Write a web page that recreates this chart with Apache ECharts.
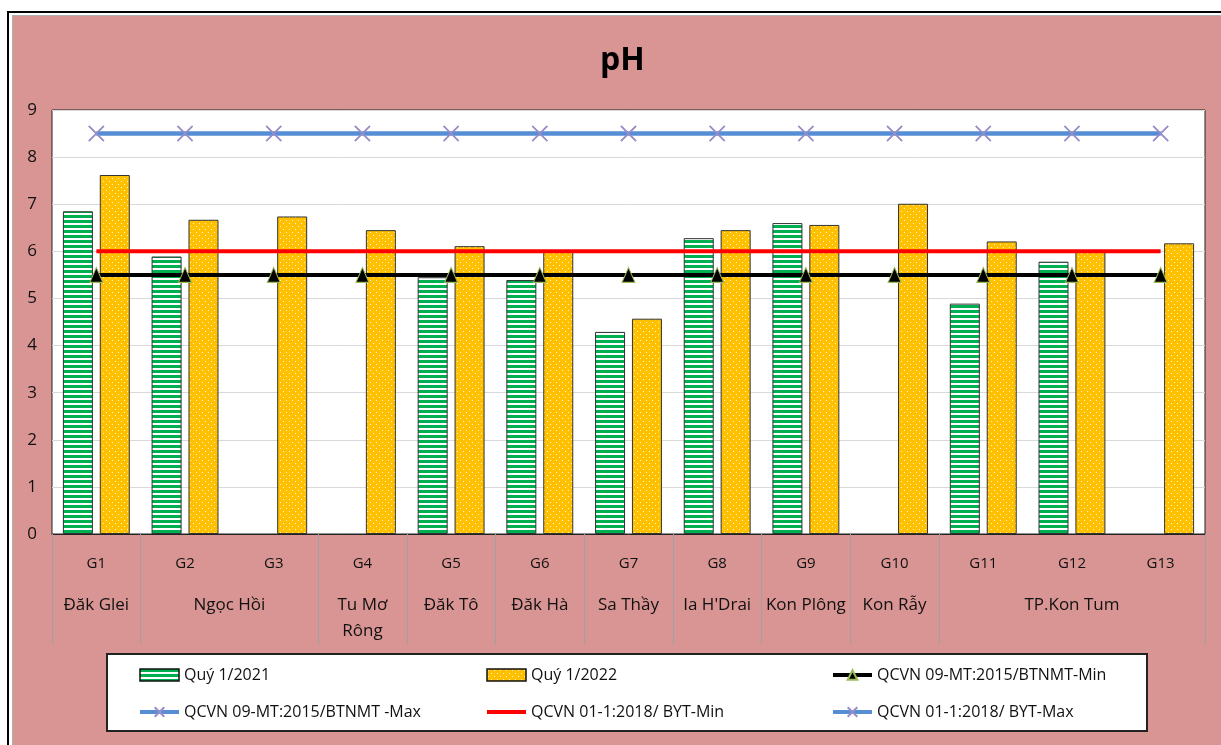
<!DOCTYPE html>
<html>
<head>
<meta charset="utf-8">
<script src="https://cdn.jsdelivr.net/npm/echarts@6/dist/echarts.min.js"></script>
<style>
  html, body { margin: 0; padding: 0; background: #fff; }
  #frame { position: absolute; left: 7px; top: 11px; width: 1230px; height: 760px; border: 2px solid #000; background: #fff; box-sizing: border-box; }
  #pink { position: absolute; left: 12px; top: 15px; width: 1220px; height: 740px; background: #d99594; border-left: 1px solid #b0b0b0; border-top: 1px solid #b0b0b0; box-sizing: border-box; }
  #legendbox { position: absolute; left: 106px; top: 653px; width: 1042px; height: 79px; background: #fff; border: 2px solid #222; box-sizing: border-box; }
  #chart { position: absolute; left: 0; top: 0; width: 1221px; height: 745px; }
</style>
</head>
<body>
<div id="frame"></div>
<div id="pink"></div>
<div id="legendbox"></div>
<div id="chart"></div>
<script>
// ---- data ----
const categories = ['G1','G2','G3','G4','G5','G6','G7','G8','G9','G10','G11','G12','G13'];
const groups = [
  { name: 'Đăk Glei', span: 1 },
  { name: 'Ngọc Hồi', span: 2 },
  { name: 'Tu Mơ\nRông', span: 1 },
  { name: 'Đăk Tô', span: 1 },
  { name: 'Đăk Hà', span: 1 },
  { name: 'Sa Thầy', span: 1 },
  { name: "Ia H'Drai", span: 1 },
  { name: 'Kon Plông', span: 1 },
  { name: 'Kon Rẫy', span: 1 },
  { name: 'TP.Kon Tum', span: 3 }
];
const q2021 = [6.85, 5.89, null, null, 5.45, 5.39, 4.29, 6.28, 6.60, null, 4.89, 5.78, null];
const q2022 = [7.62, 6.67, 6.74, 6.45, 6.11, 6.00, 4.57, 6.45, 6.56, 7.01, 6.21, 6.00, 6.17];
const qcvn09Min = [5.5, 5.5, 5.5, 5.5, 5.5, 5.5, 5.5, 5.5, 5.5, 5.5, 5.5, 5.5, 5.5];
const qcvn09Max = [8.5, 8.5, 8.5, 8.5, 8.5, 8.5, 8.5, 8.5, 8.5, 8.5, 8.5, 8.5, 8.5];
const qcvn01Min = [6, 6, 6, 6, 6, 6, 6, 6, 6, 6, 6, 6, 6];
const qcvn01Max = [8.5, 8.5, 8.5, 8.5, 8.5, 8.5, 8.5, 8.5, 8.5, 8.5, 8.5, 8.5, 8.5];
const yTicks = { min: 0, max: 9, step: 1 };
const names = {
  s1: 'Quý 1/2021',
  s2: 'Quý 1/2022',
  s3: 'QCVN 09-MT:2015/BTNMT-Min',
  s4: 'QCVN 09-MT:2015/BTNMT -Max',
  s5: 'QCVN 01-1:2018/ BYT-Min',
  s6: 'QCVN 01-1:2018/ BYT-Max'
};

// ---- derived group geometry (in category index units) ----
const boundaryStarts = new Set();
const groupCenters = {};
let idx = 0;
groups.forEach(g => {
  boundaryStarts.add(idx);
  groupCenters[(idx + idx + g.span - 1) / 2] = g.name;
  idx += g.span;
});

// ---- patterns ----
function stripePattern() {
  const c = document.createElement('canvas');
  c.width = 4; c.height = 5;
  const ctx = c.getContext('2d');
  ctx.fillStyle = '#ffffff'; ctx.fillRect(0, 0, 4, 5);
  ctx.fillStyle = '#00b050'; ctx.fillRect(0, 0, 4, 3);
  return { image: c, repeat: 'repeat' };
}
function dotPattern() {
  const c = document.createElement('canvas');
  c.width = 6; c.height = 6;
  const ctx = c.getContext('2d');
  ctx.fillStyle = '#ffc000'; ctx.fillRect(0, 0, 6, 6);
  ctx.fillStyle = '#fff6d8';
  ctx.fillRect(1, 1, 1, 1);
  ctx.fillRect(4, 4, 1, 1);
  return { image: c, repeat: 'repeat' };
}

const FONT = '"Open Sans", "Noto Sans", sans-serif';
const chart = echarts.init(document.getElementById('chart'), null, { renderer: 'canvas' });
const xSymbol = 'path://M0,0L10,10M10,0L0,10';

const legendCommon = {
  orient: 'vertical',
  top: 662,
  itemWidth: 39,
  itemHeight: 12,
  itemGap: 21,
  textStyle: { fontFamily: FONT, fontSize: 16, color: '#111', lineHeight: 16 },
  selectedMode: false
};
const barLegend = (n) => ({ name: n, icon: 'rect', itemStyle: { borderColor: '#111', borderWidth: 1.5 } });
const lineLegend = (n) => ({ name: n, lineStyle: { width: 4 } });

chart.setOption({
  animation: false,
  backgroundColor: 'transparent',
  title: {
    text: 'pH', left: 595, top: 40,
    textStyle: { fontFamily: FONT, fontWeight: 'bold', fontSize: 32, color: '#000' }
  },
  legend: [
    Object.assign({}, legendCommon, { left: 133, data: [barLegend(names.s1), lineLegend(names.s4)] }),
    Object.assign({}, legendCommon, { left: 480, data: [barLegend(names.s2), { name: names.s5, lineStyle: { width: 4 }, itemStyle: { opacity: 0 } }] }),
    Object.assign({}, legendCommon, { left: 826, data: [lineLegend(names.s3), lineLegend(names.s6)] })
  ],
  grid: {
    left: 52, right: 16, top: 110, bottom: 211,
    show: true, backgroundColor: '#ffffff', borderColor: '#222', borderWidth: 1
  },
  xAxis: [
    {
      type: 'category',
      data: categories,
      axisLine: { show: true, lineStyle: { color: '#222', width: 1 } },
      axisTick: {
        show: true, length: 111,
        interval: (i) => boundaryStarts.has(i),
        lineStyle: { color: '#a0a0a0', width: 1 }
      },
      axisLabel: { interval: 0, margin: 22, fontFamily: FONT, fontSize: 15, color: '#111' },
      splitLine: { show: false }
    },
    {
      type: 'value',
      position: 'bottom',
      min: -0.5, max: categories.length - 0.5, interval: 0.5,
      axisLine: { show: false }, axisTick: { show: false }, splitLine: { show: false },
      axisLabel: {
        margin: 58, fontFamily: FONT, fontSize: 17, lineHeight: 26, color: '#111',
        showMinLabel: true, showMaxLabel: true,
        formatter: (v) => groupCenters[v] || ''
      }
    }
  ],
  yAxis: {
    type: 'value', min: yTicks.min, max: yTicks.max, interval: yTicks.step,
    axisLine: { show: false }, axisTick: { show: false },
    axisLabel: { margin: 15, fontFamily: FONT, fontSize: 17, color: '#111' },
    splitLine: { show: true, lineStyle: { color: '#d9d9d9', width: 1 } }
  },
  series: [
    {
      name: names.s1, type: 'bar', data: q2021, barWidth: 30, barGap: '23%',
      itemStyle: { color: stripePattern(), borderColor: '#333', borderWidth: 1 },
      emphasis: { disabled: true }, z: 2
    },
    {
      name: names.s2, type: 'bar', data: q2022, barWidth: 30,
      itemStyle: { color: dotPattern(), borderColor: '#333', borderWidth: 1 },
      emphasis: { disabled: true }, z: 2
    },
    {
      name: names.s5, type: 'line', data: qcvn01Min, symbol: 'none',
      lineStyle: { color: '#ff0000', width: 4 },
      itemStyle: { color: '#ff0000' },
      emphasis: { disabled: true }, z: 3
    },
    {
      name: names.s3, type: 'line', data: qcvn09Min, symbol: 'triangle', symbolSize: [13, 15],
      lineStyle: { color: '#000', width: 4 },
      itemStyle: { color: '#000', borderColor: '#9bbb59', borderWidth: 1 },
      emphasis: { disabled: true }, z: 4
    },
    {
      name: names.s4, type: 'line', data: qcvn09Max, symbol: xSymbol, symbolSize: 15,
      lineStyle: { color: '#558ed5', width: 4 },
      itemStyle: { color: '#9a8cc9', borderColor: '#9a8cc9', borderWidth: 1.6 },
      emphasis: { disabled: true }, z: 4
    },
    {
      name: names.s6, type: 'line', data: qcvn01Max, symbol: xSymbol, symbolSize: 15,
      lineStyle: { color: '#558ed5', width: 4 },
      itemStyle: { color: '#9a8cc9', borderColor: '#9a8cc9', borderWidth: 1.6 },
      emphasis: { disabled: true }, z: 5
    }
  ]
});
</script>
</body>
</html>
